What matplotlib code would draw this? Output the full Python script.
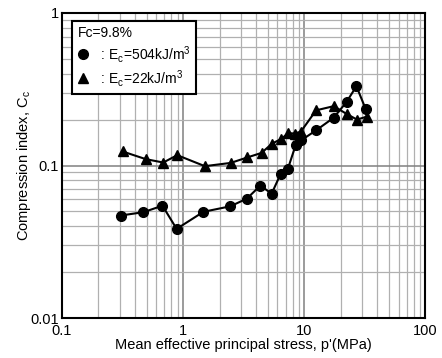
import numpy as np
import matplotlib
matplotlib.use("Agg")
import matplotlib.pyplot as plt
from matplotlib.lines import Line2D

plt.rcParams['font.family'] = ['Liberation Sans', 'DejaVu Sans']
plt.rcParams['mathtext.fontset'] = 'custom'
plt.rcParams['mathtext.rm'] = 'Liberation Sans'

### Data ###
# E_c = 504 kJ/m3 (circles)
p_504 = [0.305, 0.469, 0.675, 0.883, 1.47, 2.45, 3.36, 4.34, 5.37, 6.38,
         7.32, 8.48, 9.37, 12.5, 17.5, 22.3, 26.9, 32.2]
cc_504 = [0.047, 0.0494, 0.0545, 0.0384, 0.0497, 0.054, 0.0607, 0.0739, 0.0653,
          0.0882, 0.0953, 0.136, 0.146, 0.170, 0.206, 0.261, 0.331, 0.233]

# E_c = 22 kJ/m3 (triangles)
p_22 = [0.316, 0.493, 0.685, 0.893, 1.51, 2.47, 3.39, 4.44, 5.40, 6.41,
        7.39, 8.36, 9.37, 12.5, 17.5, 22.3, 27.2, 32.7]
cc_22 = [0.1236, 0.110, 0.1046, 0.1169, 0.099, 0.104, 0.113, 0.121, 0.139,
         0.149, 0.163, 0.162, 0.167, 0.230, 0.245, 0.218, 0.200, 0.209]

fig = plt.figure(figsize=(4.42, 3.58), dpi=100)
ax = fig.add_axes([62 / 442, 1 - 318 / 358, 363.5 / 442, 305 / 358])

ax.set_xscale('log')
ax.set_yscale('log')
ax.set_xlim(0.1, 100)
ax.set_ylim(0.01, 1)

# grid: minor lighter, major darker
ax.grid(True, which='minor', color='#b0b0b0', lw=0.9)
ax.grid(True, which='major', color='#808080', lw=1.1)
ax.set_axisbelow(True)

ax.plot(p_504, cc_504, c='k', lw=1.5, marker='o', ms=7, zorder=3)
ax.plot(p_22, cc_22, c='k', lw=1.5, marker='^', ms=7, zorder=3)

for s in ax.spines.values():
    s.set_linewidth(1.5)

ax.set_xticks([0.1, 1, 10, 100])
ax.set_xticklabels(['0.1', '1', '10', '100'])
ax.set_yticks([0.01, 0.1, 1])
ax.set_yticklabels(['0.01', '0.1', '1'])
ax.tick_params(which='both', length=0, labelsize=10.5, pad=2)
ax.tick_params(axis='x', pad=4)

ax.set_xlabel("Mean effective principal stress, p'(MPa)", fontsize=10.5, labelpad=0)
ax.set_ylabel(r"Compression index, C$_\mathregular{c}$", fontsize=10.5, labelpad=-2)

handles = [Line2D([], [], ls='none', marker='o', c='k', ms=7),
           Line2D([], [], ls='none', marker='^', c='k', ms=7)]
labels = [r" : E$_\mathregular{c}$=504kJ/m$^\mathregular{3}$",
          r" : E$_\mathregular{c}$=22kJ/m$^\mathregular{3}$"]
leg = ax.legend(handles, labels, title="Fc=9.8%", loc='upper left',
                bbox_to_anchor=(0.0275, 0.974), borderaxespad=0,
                fontsize=10, title_fontsize=10,
                frameon=True, fancybox=False, edgecolor='k', framealpha=1,
                handlelength=0.8, handletextpad=0.6, borderpad=0.4,
                labelspacing=0.22, alignment='left')
leg.get_frame().set_linewidth(1.5)

fig.savefig("out.png", dpi=100)
